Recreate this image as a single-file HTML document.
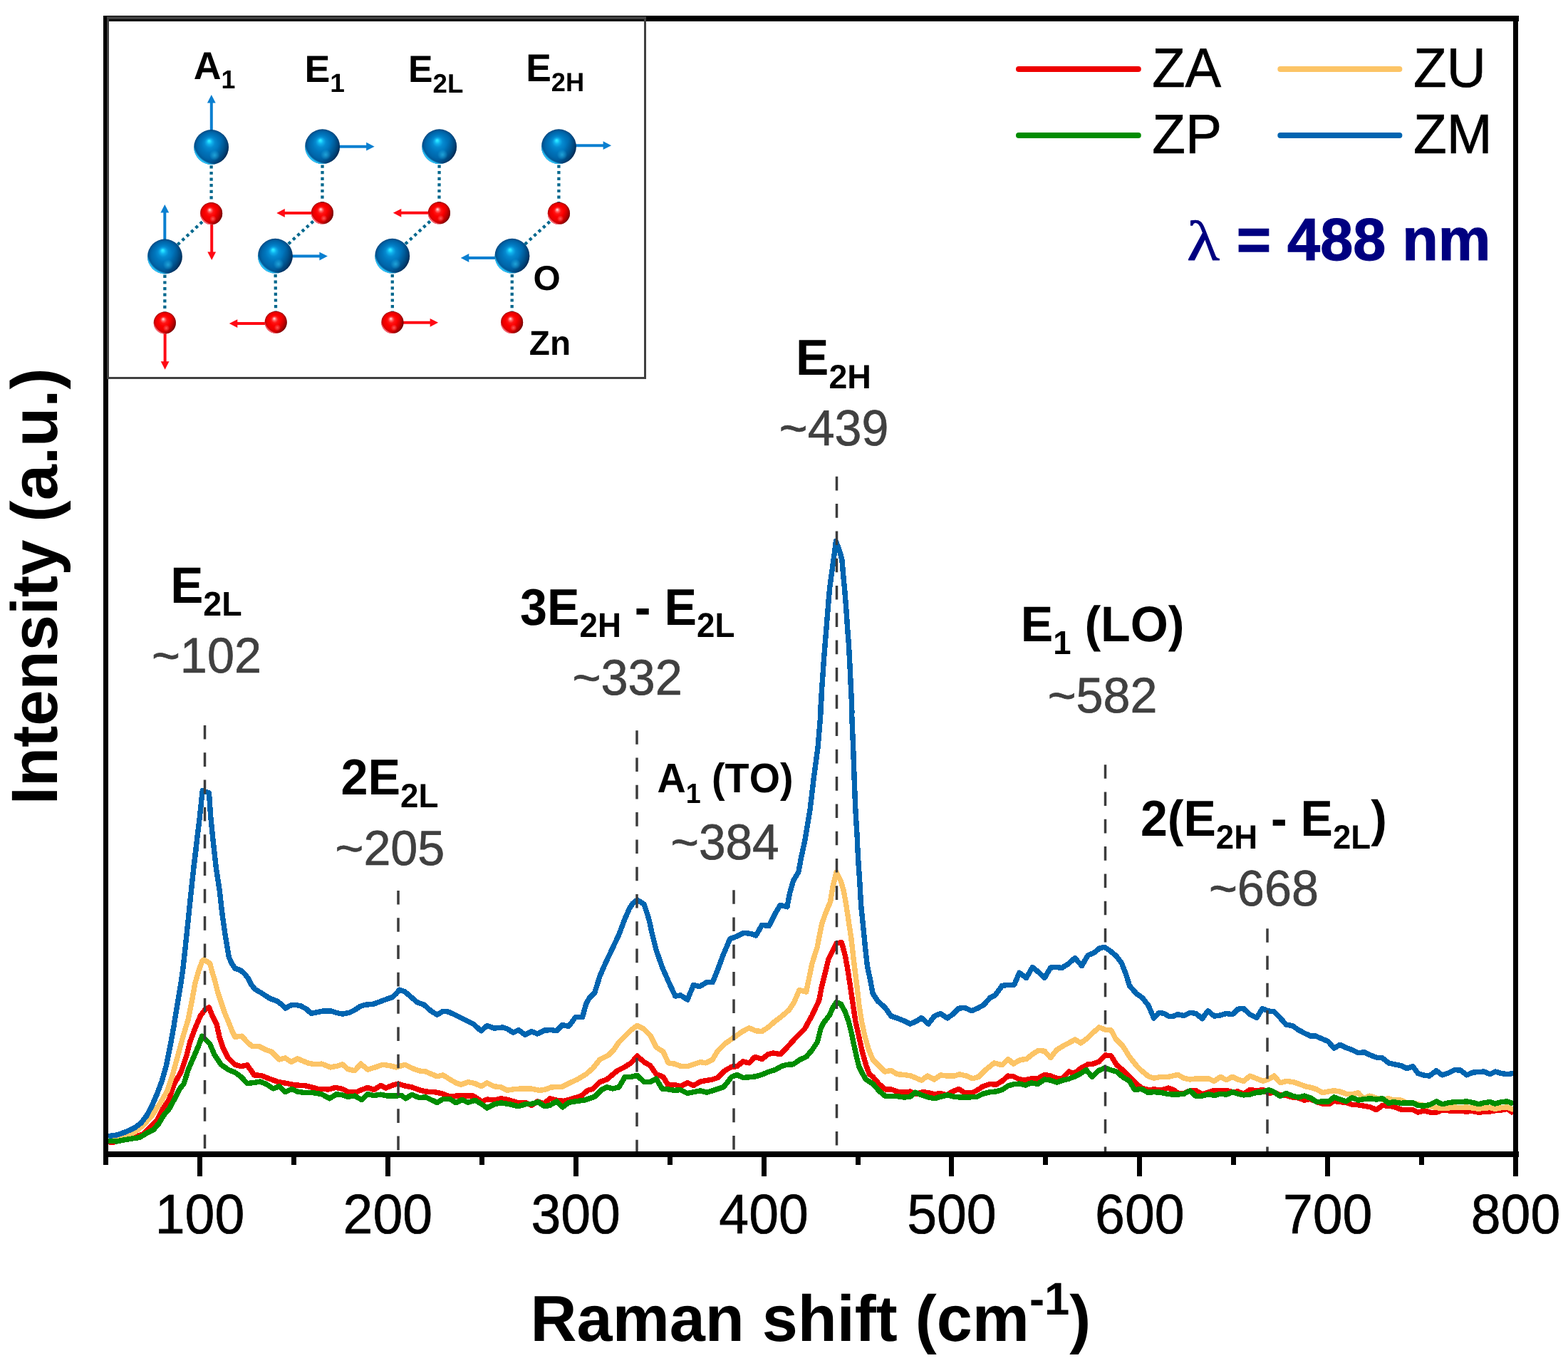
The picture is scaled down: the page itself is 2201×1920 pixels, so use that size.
<!DOCTYPE html>
<html lang="en"><head><meta charset="utf-8"><title>Raman spectra of ZnO samples</title>
<style>html,body{margin:0;padding:0;background:#fff;}body{width:2201px;height:1920px;overflow:hidden;}svg{display:block;font-kerning:none;text-rendering:geometricPrecision;}text{font-kerning:none;}</style></head><body>
<svg width="2201" height="1920" viewBox="0 0 2201 1920">
<defs>
<radialGradient id="gb" cx="0.5" cy="0.5" r="0.5" fx="0.435" fy="0.315"><stop offset="0" stop-color="#36f0ff"/><stop offset="0.07" stop-color="#22dcff"/><stop offset="0.16" stop-color="#10b0ec"/><stop offset="0.30" stop-color="#058ad0"/><stop offset="0.5" stop-color="#0076bd"/><stop offset="0.75" stop-color="#0066aa"/><stop offset="0.93" stop-color="#00528f"/><stop offset="1" stop-color="#004178"/></radialGradient>
<radialGradient id="gr" cx="0.5" cy="0.5" r="0.5" fx="0.425" fy="0.325"><stop offset="0" stop-color="#ffe0e0"/><stop offset="0.07" stop-color="#ffb0b0"/><stop offset="0.16" stop-color="#ff6060"/><stop offset="0.30" stop-color="#ff1414"/><stop offset="0.5" stop-color="#fb0000"/><stop offset="0.75" stop-color="#ec0000"/><stop offset="0.93" stop-color="#c40000"/><stop offset="1" stop-color="#980000"/></radialGradient>
<linearGradient id="sh" x1="0.25" y1="0.35" x2="1" y2="0.7"><stop offset="0" stop-color="#000820" stop-opacity="0"/><stop offset="0.55" stop-color="#000820" stop-opacity="0"/><stop offset="0.85" stop-color="#000820" stop-opacity="0.28"/><stop offset="1" stop-color="#000820" stop-opacity="0.6"/></linearGradient>
<linearGradient id="shr" x1="0.25" y1="0.35" x2="1" y2="0.7"><stop offset="0" stop-color="#300000" stop-opacity="0"/><stop offset="0.55" stop-color="#300000" stop-opacity="0"/><stop offset="0.85" stop-color="#300000" stop-opacity="0.3"/><stop offset="1" stop-color="#300000" stop-opacity="0.62"/></linearGradient>
<radialGradient id="rimb" cx="0.64" cy="0.34" r="0.70"><stop offset="0.9" stop-color="#2cc8ff" stop-opacity="0"/><stop offset="0.97" stop-color="#2cc8ff" stop-opacity="0.95"/><stop offset="1" stop-color="#2cc8ff" stop-opacity="1"/></radialGradient>
<radialGradient id="rimr" cx="0.64" cy="0.34" r="0.70"><stop offset="0.9" stop-color="#ff6a78" stop-opacity="0"/><stop offset="0.97" stop-color="#ff6a78" stop-opacity="0.95"/><stop offset="1" stop-color="#ff6a78" stop-opacity="1"/></radialGradient>
<radialGradient id="spb"><stop offset="0" stop-color="#2ab4e4" stop-opacity="0.75"/><stop offset="1" stop-color="#2ab4e4" stop-opacity="0"/></radialGradient>
<radialGradient id="spr"><stop offset="0" stop-color="#ff6c6c" stop-opacity="0.8"/><stop offset="1" stop-color="#ff6c6c" stop-opacity="0"/></radialGradient>
<g id="ab"><circle r="1" fill="url(#gb)"/><circle r="1" fill="url(#sh)"/><circle r="1" fill="url(#rimb)"/><circle cx="0.19" cy="0.47" r="0.3" fill="url(#spb)"/></g>
<g id="ar"><circle r="1" fill="url(#gr)"/><circle r="1" fill="url(#shr)"/><circle r="1" fill="url(#rimr)"/><circle cx="0.14" cy="0.48" r="0.3" fill="url(#spr)"/></g>
</defs>
<rect x="0" y="0" width="2201" height="1920" fill="#ffffff"/>
<g fill="none" stroke-width="7.4" stroke-linejoin="round" stroke-linecap="butt" shape-rendering="crispEdges">
<path stroke="#ee0000" d="M152.2 1602.6 L157.0 1603.8 L164.3 1601.4 L176.5 1599.0 L188.7 1596.0 L200.9 1591.7 L210.6 1581.9 L220.3 1572.2 L227.6 1557.6 L237.4 1543.0 L244.7 1521.1 L254.4 1504.0 L261.7 1482.1 L266.6 1462.6 L273.9 1443.2 L281.2 1426.1 L287.3 1417.6 L293.4 1414.0 L298.2 1426.1 L304.3 1438.3 L308.0 1455.3 L312.8 1469.9 L320.1 1484.5 L329.9 1494.3 L338.4 1496.7 L346.9 1494.8 L351.8 1501.6 L356.7 1508.9 L366.4 1509.4 L376.1 1513.3 L390.7 1518.6 L402.9 1520.6 L415.1 1523.0 L427.2 1523.5 L437.0 1525.9 L446.7 1528.4 L461.3 1528.9 L471.1 1526.4 L480.8 1528.4 L490.5 1533.2 L500.3 1532.7 L507.6 1529.6 L516.1 1526.4 L524.6 1529.6 L534.4 1523.5 L541.7 1527.1 L551.4 1523.0 L558.7 1521.1 L568.4 1524.0 L578.2 1525.9 L587.9 1529.6 L597.6 1532.0 L609.8 1532.7 L622.0 1535.2 L631.7 1539.3 L640.0 1538.1 L652.2 1538.1 L664.3 1538.1 L676.5 1545.9 L683.8 1543.0 L693.6 1544.2 L703.3 1541.8 L713.0 1543.5 L727.6 1547.8 L737.4 1547.4 L745.9 1551.5 L754.4 1545.9 L764.1 1549.1 L771.5 1541.8 L781.2 1544.2 L790.9 1545.4 L798.2 1543.5 L808.0 1540.5 L815.3 1538.6 L825.0 1530.3 L832.3 1528.4 L842.0 1518.6 L851.8 1515.0 L859.1 1508.9 L866.4 1502.8 L876.1 1497.9 L885.9 1491.9 L894.4 1482.1 L904.1 1490.6 L912.6 1495.5 L921.2 1507.7 L930.9 1511.3 L938.2 1523.5 L946.7 1522.3 L955.2 1524.7 L965.0 1519.8 L973.5 1523.5 L983.2 1518.1 L993.0 1516.2 L1000.3 1515.0 L1007.6 1512.5 L1017.3 1502.8 L1027.0 1497.2 L1034.4 1496.7 L1042.9 1489.9 L1051.4 1491.9 L1059.9 1483.3 L1069.6 1486.5 L1078.2 1479.7 L1085.5 1478.0 L1095.2 1479.7 L1104.9 1469.9 L1114.7 1459.0 L1129.3 1444.4 L1140.0 1424.9 L1149.7 1404.2 L1153.4 1384.7 L1158.3 1365.3 L1163.1 1345.8 L1169.2 1333.6 L1174.1 1323.9 L1181.4 1322.7 L1186.3 1340.9 L1189.9 1360.4 L1193.6 1384.7 L1197.2 1409.1 L1200.9 1433.4 L1205.7 1455.3 L1210.6 1477.2 L1215.5 1494.3 L1220.3 1507.7 L1225.2 1511.3 L1233.7 1521.1 L1242.2 1528.9 L1250.8 1528.9 L1259.3 1532.0 L1269.0 1533.2 L1277.5 1532.0 L1286.1 1535.2 L1295.8 1532.7 L1303.1 1533.7 L1311.6 1535.7 L1320.1 1534.4 L1328.7 1536.9 L1337.2 1532.0 L1345.7 1528.4 L1354.2 1533.7 L1365.2 1533.7 L1373.7 1528.9 L1379.8 1524.7 L1389.5 1521.5 L1398.0 1522.3 L1406.6 1517.4 L1415.1 1510.1 L1422.4 1510.8 L1430.9 1515.0 L1439.4 1515.7 L1447.9 1513.8 L1456.5 1513.8 L1466.2 1508.4 L1474.7 1510.1 L1483.2 1513.3 L1490.5 1513.8 L1500.3 1504.0 L1507.6 1506.9 L1517.3 1499.2 L1527.0 1493.8 L1534.4 1493.1 L1542.9 1489.9 L1551.4 1480.9 L1559.9 1482.1 L1567.2 1494.3 L1577.0 1502.8 L1585.5 1511.3 L1595.2 1521.1 L1602.5 1527.1 L1612.2 1529.6 L1620.8 1528.9 L1629.3 1530.3 L1640.0 1527.1 L1647.3 1529.6 L1654.6 1535.2 L1661.9 1534.4 L1670.4 1530.8 L1678.9 1530.8 L1687.5 1535.7 L1696.0 1533.2 L1704.5 1530.3 L1713.0 1530.8 L1721.5 1530.3 L1730.1 1532.7 L1737.4 1532.0 L1745.9 1535.2 L1754.4 1529.6 L1764.1 1530.8 L1772.7 1529.6 L1781.2 1534.4 L1788.5 1533.2 L1797.0 1536.9 L1805.5 1537.6 L1814.1 1540.0 L1822.6 1541.0 L1831.1 1544.2 L1839.6 1542.5 L1848.1 1546.6 L1856.7 1549.1 L1865.2 1549.8 L1872.5 1545.4 L1881.0 1546.6 L1889.5 1547.4 L1898.0 1550.3 L1906.6 1550.8 L1915.1 1552.2 L1923.6 1553.9 L1932.1 1557.6 L1940.6 1551.5 L1949.2 1552.2 L1956.5 1553.2 L1966.2 1557.1 L1974.7 1557.6 L1983.2 1557.6 L1990.5 1561.2 L1999.1 1558.8 L2007.6 1561.2 L2016.1 1561.2 L2024.6 1558.1 L2033.1 1558.8 L2041.7 1559.5 L2050.2 1559.5 L2058.7 1560.0 L2067.2 1559.5 L2075.7 1561.2 L2083.0 1560.5 L2091.6 1560.0 L2098.9 1558.8 L2107.4 1558.1 L2115.9 1556.4 L2124.4 1562.4"/>
<path stroke="#fcc466" d="M152.2 1601.4 L164.3 1599.0 L176.5 1594.1 L188.7 1589.2 L200.9 1579.5 L213.0 1566.1 L225.2 1547.8 L234.9 1530.8 L242.2 1508.9 L249.5 1482.1 L256.8 1455.3 L264.1 1431.0 L269.0 1406.7 L273.9 1379.9 L278.8 1362.8 L283.6 1349.4 L286.1 1347.0 L294.6 1351.9 L298.2 1365.3 L301.9 1377.4 L305.5 1392.0 L310.4 1406.7 L315.3 1421.3 L321.4 1435.9 L326.2 1448.0 L329.9 1455.3 L339.6 1454.1 L346.9 1462.6 L354.2 1468.7 L364.0 1468.7 L373.7 1473.6 L381.0 1476.0 L385.9 1480.9 L391.9 1487.0 L400.5 1485.0 L409.0 1490.6 L417.5 1485.8 L424.8 1488.9 L432.1 1491.9 L441.9 1493.8 L451.6 1493.1 L463.8 1497.9 L473.5 1496.2 L480.8 1493.8 L488.1 1500.4 L497.8 1502.8 L506.4 1493.1 L516.1 1501.1 L527.0 1497.9 L536.8 1494.3 L546.5 1495.5 L556.3 1497.9 L568.4 1494.3 L578.2 1499.2 L587.9 1502.8 L597.6 1504.0 L613.5 1510.8 L622.0 1508.9 L631.7 1515.0 L640.0 1519.8 L647.3 1522.3 L657.0 1518.6 L666.8 1520.6 L675.3 1524.7 L683.8 1519.8 L693.6 1524.7 L703.3 1525.9 L711.8 1530.3 L722.8 1528.4 L734.9 1527.9 L744.7 1527.9 L756.8 1530.3 L764.1 1529.6 L773.9 1525.9 L788.5 1525.4 L798.2 1520.6 L810.4 1515.0 L822.6 1507.7 L832.3 1499.2 L842.0 1487.0 L854.2 1480.9 L861.5 1473.6 L868.8 1462.6 L876.1 1455.3 L885.9 1445.6 L894.4 1439.5 L904.1 1444.4 L912.6 1452.9 L921.2 1469.9 L930.9 1476.0 L938.2 1491.9 L946.7 1493.1 L956.5 1496.7 L966.2 1496.2 L975.9 1493.1 L983.2 1490.6 L990.5 1491.9 L1000.3 1487.0 L1007.6 1474.8 L1017.3 1465.1 L1029.5 1456.6 L1041.7 1448.0 L1051.4 1442.7 L1061.1 1446.8 L1069.6 1447.5 L1078.2 1441.9 L1087.9 1433.4 L1097.6 1426.1 L1107.4 1417.6 L1114.7 1406.7 L1122.0 1389.6 L1131.7 1392.0 L1140.0 1351.9 L1147.3 1328.8 L1153.4 1297.1 L1159.5 1280.1 L1165.6 1265.5 L1169.2 1243.6 L1174.1 1224.1 L1180.2 1236.3 L1183.8 1248.4 L1187.5 1267.9 L1191.1 1292.2 L1194.8 1316.6 L1198.4 1348.2 L1202.1 1377.4 L1205.7 1409.1 L1209.4 1433.4 L1214.2 1455.3 L1219.1 1472.4 L1225.2 1487.0 L1233.7 1495.5 L1242.2 1504.0 L1250.8 1502.3 L1259.3 1507.7 L1269.0 1508.4 L1278.8 1510.1 L1293.4 1516.2 L1301.9 1510.1 L1311.6 1515.0 L1320.1 1508.9 L1329.9 1510.1 L1339.6 1510.1 L1346.9 1507.7 L1356.7 1510.1 L1365.2 1513.8 L1373.7 1511.3 L1383.4 1501.6 L1395.6 1491.9 L1406.6 1494.8 L1415.1 1486.5 L1422.4 1493.1 L1432.1 1487.5 L1440.6 1486.5 L1449.2 1479.7 L1457.7 1474.3 L1466.2 1475.3 L1474.7 1484.5 L1483.2 1473.6 L1493.0 1467.5 L1500.3 1463.9 L1508.8 1459.0 L1517.3 1463.9 L1527.0 1456.6 L1534.4 1449.3 L1542.9 1441.9 L1551.4 1445.1 L1559.9 1446.1 L1566.0 1457.8 L1575.7 1467.5 L1585.5 1483.3 L1595.2 1495.5 L1602.5 1502.8 L1612.2 1510.8 L1619.6 1513.3 L1629.3 1511.3 L1640.0 1511.3 L1653.4 1508.4 L1661.9 1513.3 L1670.4 1515.0 L1678.9 1513.8 L1696.0 1513.8 L1704.5 1517.4 L1713.0 1511.3 L1721.5 1515.7 L1730.1 1511.3 L1737.4 1515.0 L1745.9 1517.4 L1754.4 1510.1 L1764.1 1513.8 L1772.7 1517.4 L1780.0 1515.0 L1788.5 1510.1 L1797.0 1519.8 L1805.5 1517.4 L1815.3 1518.6 L1823.8 1521.5 L1832.3 1524.7 L1840.8 1526.4 L1848.1 1528.9 L1856.7 1533.7 L1864.0 1532.0 L1872.5 1530.8 L1881.0 1532.0 L1889.5 1535.2 L1898.0 1535.7 L1906.6 1533.7 L1913.9 1541.8 L1922.4 1538.1 L1932.1 1541.0 L1940.6 1543.0 L1949.2 1541.8 L1956.5 1544.2 L1965.0 1543.5 L1973.5 1547.4 L1983.2 1547.8 L1990.5 1549.8 L1999.1 1551.5 L2007.6 1552.7 L2016.1 1554.7 L2024.6 1555.1 L2033.1 1555.1 L2041.7 1553.9 L2050.2 1554.7 L2058.7 1553.9 L2067.2 1555.1 L2075.7 1556.4 L2083.0 1555.1 L2091.6 1554.7 L2098.9 1556.4 L2107.4 1554.7 L2115.9 1553.9 L2124.4 1557.6"/>
<path stroke="#008c00" d="M152.2 1601.4 L164.3 1601.9 L176.5 1599.4 L196.0 1596.5 L205.7 1590.4 L215.5 1585.6 L222.8 1577.0 L230.1 1564.9 L237.4 1556.4 L244.7 1543.0 L252.0 1528.4 L258.1 1521.1 L264.1 1501.6 L271.5 1484.5 L278.8 1467.5 L283.6 1454.1 L288.5 1459.0 L294.6 1465.1 L300.7 1479.7 L310.4 1494.3 L320.1 1501.1 L329.9 1505.2 L338.4 1511.3 L346.9 1520.6 L354.2 1519.8 L365.2 1518.1 L373.7 1521.5 L383.4 1527.9 L391.9 1524.7 L400.5 1532.7 L409.0 1528.4 L417.5 1532.0 L427.2 1533.7 L437.0 1533.2 L451.6 1535.7 L462.5 1541.8 L472.3 1535.7 L480.8 1536.9 L488.1 1539.3 L497.8 1538.1 L507.6 1543.5 L516.1 1535.7 L524.6 1537.6 L534.4 1536.2 L544.1 1538.1 L553.8 1538.1 L563.6 1537.6 L569.6 1541.8 L578.2 1536.2 L587.9 1540.5 L597.6 1540.0 L613.5 1547.4 L622.0 1542.5 L631.7 1542.5 L640.0 1547.8 L648.5 1543.5 L657.0 1547.4 L666.8 1544.2 L675.3 1549.1 L683.8 1555.1 L693.6 1549.8 L703.3 1547.8 L715.5 1549.8 L727.6 1552.7 L737.4 1549.8 L747.1 1549.1 L755.6 1546.6 L764.1 1552.7 L771.5 1551.5 L781.2 1545.9 L789.7 1553.9 L798.2 1547.4 L810.4 1545.4 L820.1 1544.2 L834.7 1539.3 L844.5 1529.6 L851.8 1525.9 L860.3 1527.9 L868.8 1525.9 L877.3 1511.3 L885.9 1511.3 L894.4 1509.4 L904.1 1518.6 L912.6 1518.6 L921.2 1514.2 L929.7 1528.4 L938.2 1528.9 L946.7 1530.3 L955.2 1529.6 L965.0 1534.4 L973.5 1532.7 L983.2 1530.8 L991.8 1533.2 L1000.3 1530.8 L1016.1 1525.4 L1027.0 1511.3 L1034.4 1508.4 L1042.9 1512.5 L1051.4 1511.8 L1061.1 1510.8 L1070.9 1507.7 L1078.2 1504.5 L1087.9 1501.6 L1097.6 1496.2 L1104.9 1494.3 L1113.5 1493.8 L1123.2 1487.0 L1131.7 1483.3 L1140.0 1473.6 L1147.3 1462.6 L1152.2 1443.2 L1155.8 1435.9 L1164.3 1424.9 L1169.2 1414.0 L1174.1 1406.7 L1180.2 1409.1 L1186.3 1420.0 L1191.1 1433.4 L1194.8 1448.0 L1198.4 1465.1 L1202.1 1482.1 L1205.7 1496.7 L1210.6 1506.5 L1215.5 1515.0 L1225.2 1521.1 L1233.7 1530.8 L1242.2 1538.1 L1250.8 1538.6 L1259.3 1538.6 L1269.0 1540.0 L1277.5 1539.3 L1284.8 1533.2 L1293.4 1536.9 L1303.1 1540.0 L1311.6 1541.8 L1320.1 1539.3 L1329.9 1536.9 L1339.6 1539.3 L1346.9 1540.0 L1359.1 1540.0 L1371.3 1539.3 L1379.8 1535.2 L1389.5 1532.7 L1398.0 1532.0 L1406.6 1529.6 L1415.1 1524.0 L1423.6 1521.5 L1430.9 1521.1 L1439.4 1523.0 L1447.9 1519.8 L1456.5 1521.5 L1466.2 1515.0 L1474.7 1516.2 L1483.2 1519.1 L1491.8 1516.2 L1500.3 1514.2 L1508.8 1510.8 L1517.3 1506.5 L1524.6 1501.6 L1533.1 1511.3 L1541.7 1502.8 L1551.4 1498.7 L1558.7 1501.6 L1567.2 1504.0 L1575.7 1511.3 L1585.5 1517.4 L1592.8 1529.6 L1602.5 1528.4 L1611.0 1533.2 L1619.6 1532.7 L1629.3 1533.2 L1640.0 1535.7 L1652.2 1536.2 L1661.9 1535.2 L1670.4 1530.8 L1678.9 1538.6 L1687.5 1538.1 L1696.0 1535.7 L1704.5 1537.6 L1713.0 1535.2 L1721.5 1536.2 L1730.1 1532.7 L1737.4 1535.2 L1745.9 1536.9 L1754.4 1536.2 L1764.1 1533.2 L1772.7 1532.7 L1781.2 1529.6 L1788.5 1532.7 L1797.0 1538.6 L1805.5 1534.4 L1814.1 1538.1 L1822.6 1540.0 L1831.1 1538.1 L1839.6 1541.0 L1848.1 1546.6 L1856.7 1545.9 L1865.2 1545.9 L1872.5 1540.0 L1881.0 1543.0 L1889.5 1545.9 L1898.0 1540.5 L1906.6 1544.2 L1915.1 1542.5 L1923.6 1541.8 L1932.1 1543.0 L1940.6 1541.8 L1949.2 1548.3 L1956.5 1546.6 L1966.2 1548.3 L1974.7 1547.8 L1983.2 1547.8 L1990.5 1551.5 L1999.1 1552.2 L2007.6 1550.3 L2016.1 1545.9 L2024.6 1549.8 L2033.1 1547.8 L2041.7 1546.6 L2050.2 1546.6 L2058.7 1545.9 L2067.2 1547.4 L2075.7 1549.8 L2083.0 1547.8 L2091.6 1546.6 L2098.9 1549.1 L2107.4 1546.6 L2115.9 1545.9 L2124.4 1549.1"/>
<path stroke="#0064b0" d="M152.2 1594.6 L164.3 1592.9 L176.5 1588.7 L188.7 1583.1 L198.4 1575.8 L205.7 1566.1 L213.0 1552.7 L220.3 1535.7 L227.6 1516.2 L233.7 1494.3 L238.6 1469.9 L243.5 1443.2 L248.3 1414.0 L253.2 1384.7 L256.8 1360.4 L260.5 1326.3 L264.1 1292.2 L267.8 1255.7 L271.5 1221.6 L275.1 1192.4 L271.6 1219.3 L276.0 1182.7 L280.4 1146.2 L284.2 1109.9 L293.5 1112.9 L295.7 1146.2 L299.4 1182.7 L303.5 1219.3 L308.0 1248.4 L311.6 1280.1 L315.3 1306.8 L318.9 1328.8 L321.4 1343.4 L325.0 1351.9 L329.9 1359.2 L337.2 1361.6 L342.0 1365.3 L348.1 1372.6 L353.0 1382.3 L357.9 1388.4 L366.4 1393.3 L373.7 1398.1 L379.8 1401.8 L388.3 1404.7 L394.4 1409.1 L400.5 1415.2 L407.8 1411.0 L415.1 1410.3 L422.4 1412.0 L429.7 1415.9 L437.0 1422.5 L444.3 1420.8 L454.0 1418.8 L463.8 1418.8 L473.5 1421.7 L480.8 1423.2 L490.5 1421.3 L497.8 1417.6 L505.1 1412.7 L512.4 1410.3 L524.6 1409.1 L534.4 1405.4 L544.1 1401.8 L551.4 1399.3 L556.3 1394.5 L560.6 1389.1 L568.4 1392.0 L575.7 1398.1 L585.5 1406.7 L595.2 1410.3 L604.9 1418.8 L613.5 1424.2 L622.0 1419.3 L629.3 1420.0 L640.0 1424.9 L649.7 1429.8 L664.3 1437.1 L675.3 1446.8 L683.8 1439.5 L693.6 1443.2 L705.7 1441.9 L713.0 1444.4 L720.3 1449.3 L727.6 1445.6 L737.4 1452.4 L745.9 1447.5 L754.4 1451.0 L764.1 1446.1 L773.9 1445.6 L781.2 1446.8 L789.7 1438.3 L798.2 1440.7 L808.0 1427.3 L817.7 1427.3 L822.6 1409.1 L827.4 1400.6 L834.7 1393.3 L842.0 1370.1 L849.3 1353.1 L859.1 1332.4 L868.8 1311.7 L876.1 1292.2 L883.4 1275.2 L888.3 1267.9 L894.4 1263.0 L904.1 1269.1 L907.8 1280.1 L911.4 1292.2 L915.1 1309.3 L921.2 1333.6 L929.7 1358.0 L939.4 1379.9 L947.9 1398.1 L955.2 1396.9 L965.0 1403.0 L973.5 1382.3 L982.0 1384.7 L991.8 1378.7 L1000.3 1378.7 L1007.6 1360.4 L1014.9 1340.9 L1024.6 1317.8 L1034.4 1314.1 L1044.1 1309.3 L1053.8 1310.5 L1061.1 1312.9 L1069.6 1298.3 L1079.4 1299.5 L1087.9 1282.5 L1095.2 1270.3 L1104.9 1272.8 L1108.6 1253.3 L1113.5 1236.3 L1120.8 1224.1 L1124.4 1204.6 L1129.9 1179.3 L1137.2 1135.4 L1142.3 1091.6 L1148.2 1047.7 L1151.8 1003.9 L1154.0 960.0 L1151.6 999.6 L1152.7 982.0 L1153.9 962.5 L1155.3 943.0 L1156.6 923.4 L1158.2 903.9 L1159.8 884.4 L1161.3 864.8 L1162.9 845.3 L1164.6 825.8 L1167.2 806.2 L1169.9 786.7 L1171.9 772.1 L1173.4 759.8 L1176.8 768.2 L1179.7 777.0 L1182.0 786.7 L1183.6 806.2 L1185.5 825.8 L1187.1 845.3 L1188.5 864.8 L1189.8 884.4 L1191.4 903.9 L1192.4 923.4 L1193.4 943.0 L1194.3 962.5 L1195.3 982.0 L1195.9 999.6 L1195.7 1003.9 L1197.6 1047.7 L1199.1 1091.6 L1200.8 1135.4 L1203.5 1179.3 L1203.8 1190.0 L1205.2 1214.3 L1206.9 1238.7 L1208.6 1270.3 L1211.1 1294.7 L1214.2 1326.3 L1217.4 1355.5 L1221.5 1375.0 L1225.2 1394.5 L1232.5 1405.4 L1242.2 1414.0 L1250.8 1426.1 L1261.7 1429.8 L1271.5 1433.9 L1277.5 1437.1 L1286.1 1433.4 L1293.4 1428.6 L1303.1 1437.1 L1311.6 1426.1 L1320.1 1422.5 L1329.9 1429.0 L1337.2 1423.7 L1345.7 1415.2 L1354.2 1414.4 L1364.0 1418.8 L1373.7 1414.4 L1381.0 1410.3 L1389.5 1400.6 L1396.8 1396.9 L1406.6 1383.5 L1415.1 1382.3 L1423.6 1382.3 L1430.9 1365.3 L1440.6 1372.6 L1449.2 1357.5 L1458.9 1365.3 L1466.2 1372.6 L1474.7 1358.0 L1483.2 1357.5 L1490.5 1358.5 L1499.1 1353.1 L1508.8 1344.6 L1518.5 1355.5 L1527.0 1340.9 L1535.6 1337.3 L1542.9 1331.2 L1550.2 1329.2 L1558.7 1334.8 L1567.2 1342.1 L1574.5 1351.9 L1580.6 1367.7 L1585.5 1383.5 L1595.2 1394.5 L1603.7 1400.6 L1612.2 1411.5 L1619.6 1429.0 L1626.9 1421.3 L1634.2 1422.5 L1640.0 1426.1 L1646.1 1426.6 L1653.4 1423.7 L1661.9 1425.6 L1670.4 1421.3 L1678.9 1422.5 L1687.5 1429.8 L1695.5 1418.8 L1704.5 1426.1 L1713.0 1424.9 L1721.5 1422.5 L1730.1 1423.7 L1737.4 1416.4 L1745.2 1415.2 L1754.4 1423.7 L1764.1 1428.6 L1771.9 1415.7 L1780.0 1418.8 L1788.5 1420.0 L1797.0 1428.6 L1805.5 1438.3 L1814.1 1439.5 L1822.6 1445.6 L1831.1 1450.0 L1839.6 1454.1 L1846.9 1454.1 L1855.4 1457.8 L1864.0 1461.4 L1872.5 1471.2 L1881.0 1466.3 L1889.5 1470.4 L1898.0 1473.6 L1906.6 1477.7 L1915.1 1476.8 L1923.6 1480.9 L1932.1 1484.1 L1940.6 1485.0 L1949.2 1491.9 L1957.7 1493.8 L1966.2 1495.5 L1974.7 1499.6 L1983.2 1496.7 L1990.5 1506.5 L1997.8 1508.9 L2006.4 1510.1 L2016.1 1502.8 L2024.6 1508.9 L2033.1 1506.0 L2041.7 1501.6 L2050.2 1502.1 L2058.7 1508.9 L2067.2 1505.2 L2075.7 1504.5 L2083.0 1504.0 L2091.6 1507.7 L2098.9 1504.0 L2107.4 1506.5 L2115.9 1507.7 L2124.4 1506.5"/>
</g>
<g stroke="#3c3c3c" stroke-width="3.5" stroke-dasharray="19.6 18.7" fill="none">
<path d="M287.5 1018.0 V1616.5"/>
<path d="M559.0 1249.9 V1616.5"/>
<path d="M894.0 1025.2 V1616.5"/>
<path d="M1030.0 1249.2 V1616.5"/>
<path d="M1174.5 668.8 V1616.5"/>
<path d="M1551.5 1073.2 V1616.5"/>
<path d="M1779.0 1303.2 V1616.5"/>
</g>
<g id="inset">
<path d="M296.6 206.5 L296.6 299.6" stroke="#04688e" stroke-width="4.3" stroke-dasharray="4.2 4.4" fill="none"/>
<path d="M296.6 299.6 L231.4 360.0" stroke="#04688e" stroke-width="4.3" stroke-dasharray="4.2 4.4" fill="none"/>
<path d="M231.4 360.0 L231.3 453.0" stroke="#04688e" stroke-width="4.3" stroke-dasharray="4.2 4.4" fill="none"/>
<path d="M452.6 205.7 L452.4 298.9" stroke="#04688e" stroke-width="4.3" stroke-dasharray="4.2 4.4" fill="none"/>
<path d="M452.4 298.9 L386.4 359.2" stroke="#04688e" stroke-width="4.3" stroke-dasharray="4.2 4.4" fill="none"/>
<path d="M386.4 359.2 L387.2 452.3" stroke="#04688e" stroke-width="4.3" stroke-dasharray="4.2 4.4" fill="none"/>
<path d="M616.7 205.7 L616.4 298.9" stroke="#04688e" stroke-width="4.3" stroke-dasharray="4.2 4.4" fill="none"/>
<path d="M616.4 298.9 L550.7 359.2" stroke="#04688e" stroke-width="4.3" stroke-dasharray="4.2 4.4" fill="none"/>
<path d="M550.7 359.2 L550.9 452.5" stroke="#04688e" stroke-width="4.3" stroke-dasharray="4.2 4.4" fill="none"/>
<path d="M784.4 205.7 L784.4 299.4" stroke="#04688e" stroke-width="4.3" stroke-dasharray="4.2 4.4" fill="none"/>
<path d="M784.4 299.4 L718.9 359.2" stroke="#04688e" stroke-width="4.3" stroke-dasharray="4.2 4.4" fill="none"/>
<path d="M718.9 359.2 L718.6 452.5" stroke="#04688e" stroke-width="4.3" stroke-dasharray="4.2 4.4" fill="none"/>
<path d="M296.8 206.5 L296.8 142.5" stroke="#0a7fd0" stroke-width="4.0" fill="none"/><path d="M296.8 133.0 L302.7 144.5 L290.9 144.5 Z" fill="#0a7fd0"/>
<path d="M297.2 299.6 L297.2 355.4" stroke="#ff0a14" stroke-width="4.0" fill="none"/><path d="M297.2 364.9 L291.3 353.4 L303.1 353.4 Z" fill="#ff0a14"/>
<path d="M231.3 360.0 L231.3 296.5" stroke="#0a7fd0" stroke-width="4.0" fill="none"/><path d="M231.3 287.0 L237.2 298.5 L225.4 298.5 Z" fill="#0a7fd0"/>
<path d="M231.6 453.0 L231.6 509.2" stroke="#ff0a14" stroke-width="4.0" fill="none"/><path d="M231.6 518.7 L225.7 507.2 L237.5 507.2 Z" fill="#ff0a14"/>
<path d="M452.6 205.7 L516.1 205.7" stroke="#0a7fd0" stroke-width="4.0" fill="none"/><path d="M525.6 205.7 L514.1 211.6 L514.1 199.8 Z" fill="#0a7fd0"/>
<path d="M452.4 299.0 L397.8 299.0" stroke="#ff0a14" stroke-width="4.0" fill="none"/><path d="M388.3 299.0 L399.8 293.1 L399.8 304.9 Z" fill="#ff0a14"/>
<path d="M386.4 359.6 L450.4 359.6" stroke="#0a7fd0" stroke-width="4.0" fill="none"/><path d="M459.9 359.6 L448.4 365.5 L448.4 353.7 Z" fill="#0a7fd0"/>
<path d="M387.2 454.1 L331.3 454.1" stroke="#ff0a14" stroke-width="4.0" fill="none"/><path d="M321.8 454.1 L333.3 448.2 L333.3 460.0 Z" fill="#ff0a14"/>
<path d="M616.4 298.8 L561.3 298.8" stroke="#ff0a14" stroke-width="4.0" fill="none"/><path d="M551.8 298.8 L563.3 292.9 L563.3 304.7 Z" fill="#ff0a14"/>
<path d="M550.9 452.8 L605.6 452.8" stroke="#ff0a14" stroke-width="4.0" fill="none"/><path d="M615.1 452.8 L603.6 458.7 L603.6 446.9 Z" fill="#ff0a14"/>
<path d="M784.4 204.2 L848.6 204.2" stroke="#0a7fd0" stroke-width="4.0" fill="none"/><path d="M858.1 204.2 L846.6 210.1 L846.6 198.3 Z" fill="#0a7fd0"/>
<path d="M718.9 362.0 L656.3 362.0" stroke="#0a7fd0" stroke-width="4.0" fill="none"/><path d="M646.8 362.0 L658.3 356.1 L658.3 367.9 Z" fill="#0a7fd0"/>
<use href="#ab" transform="translate(296.6 206.5) scale(24.40)"/>
<use href="#ar" transform="translate(296.6 299.6) scale(15.60)"/>
<use href="#ab" transform="translate(231.4 360.0) scale(24.40)"/>
<use href="#ar" transform="translate(231.3 453.0) scale(15.60)"/>
<use href="#ab" transform="translate(452.6 205.7) scale(24.40)"/>
<use href="#ar" transform="translate(452.4 298.9) scale(15.60)"/>
<use href="#ab" transform="translate(386.4 359.2) scale(24.40)"/>
<use href="#ar" transform="translate(387.2 452.3) scale(15.60)"/>
<use href="#ab" transform="translate(616.7 205.7) scale(24.40)"/>
<use href="#ar" transform="translate(616.4 298.9) scale(15.60)"/>
<use href="#ab" transform="translate(550.7 359.2) scale(24.40)"/>
<use href="#ar" transform="translate(550.9 452.5) scale(15.60)"/>
<use href="#ab" transform="translate(784.4 205.7) scale(24.40)"/>
<use href="#ar" transform="translate(784.4 299.4) scale(15.60)"/>
<use href="#ab" transform="translate(718.9 359.2) scale(24.40)"/>
<use href="#ar" transform="translate(718.6 452.5) scale(15.60)"/>
<text transform="translate(271.66 111.10) scale(0.9831 1)" fill="#000" xml:space="preserve" ><tspan font-size="54.65" font-weight="bold" font-family='"Liberation Sans", Arial, Helvetica, sans-serif'>A</tspan><tspan font-size="36.34" font-weight="bold" font-family='"Liberation Sans", Arial, Helvetica, sans-serif' dy="13.30">1</tspan></text>
<text transform="translate(427.41 114.90) scale(1.0149 1)" fill="#000" xml:space="preserve" ><tspan font-size="52.91" font-weight="bold" font-family='"Liberation Sans", Arial, Helvetica, sans-serif'>E</tspan><tspan font-size="36.63" font-weight="bold" font-family='"Liberation Sans", Arial, Helvetica, sans-serif' dy="14.30">1</tspan></text>
<text transform="translate(573.04 114.90) scale(0.9777 1)" fill="#000" xml:space="preserve" ><tspan font-size="52.91" font-weight="bold" font-family='"Liberation Sans", Arial, Helvetica, sans-serif'>E</tspan><tspan font-size="37.50" font-weight="bold" font-family='"Liberation Sans", Arial, Helvetica, sans-serif' dy="14.80">2L</tspan></text>
<text transform="translate(738.13 114.00) scale(0.9828 1)" fill="#000" xml:space="preserve" ><tspan font-size="54.36" font-weight="bold" font-family='"Liberation Sans", Arial, Helvetica, sans-serif'>E</tspan><tspan font-size="36.92" font-weight="bold" font-family='"Liberation Sans", Arial, Helvetica, sans-serif' dy="13.80">2H</tspan></text>
<text transform="translate(748.58 407.40) scale(1.0139 1)" fill="#000" xml:space="preserve" ><tspan font-size="48.55" font-weight="bold" font-family='"Liberation Sans", Arial, Helvetica, sans-serif'>O</tspan></text>
<text transform="translate(742.78 497.80) scale(0.9885 1)" fill="#000" xml:space="preserve" ><tspan font-size="48.26" font-weight="bold" font-family='"Liberation Sans", Arial, Helvetica, sans-serif'>Zn</tspan></text>
</g>
<g fill="#000" shape-rendering="crispEdges">
<rect x="145" y="22" width="1987" height="8"/>
<rect x="145" y="1616" width="1987" height="8"/>
<rect x="145" y="22" width="7" height="1613"/>
<rect x="2124" y="22" width="7" height="1629"/>
<rect x="277" y="1620" width="7" height="31"/>
<rect x="541" y="1620" width="7" height="31"/>
<rect x="805" y="1620" width="7" height="31"/>
<rect x="1069" y="1620" width="7" height="31"/>
<rect x="1332" y="1620" width="7" height="31"/>
<rect x="1596" y="1620" width="7" height="31"/>
<rect x="1860" y="1620" width="7" height="31"/>
<rect x="409" y="1620" width="7" height="15"/>
<rect x="673" y="1620" width="7" height="15"/>
<rect x="937" y="1620" width="7" height="15"/>
<rect x="1201" y="1620" width="7" height="15"/>
<rect x="1464" y="1620" width="7" height="15"/>
<rect x="1728" y="1620" width="7" height="15"/>
<rect x="1992" y="1620" width="7" height="15"/>
</g>
<g fill="#404040" shape-rendering="crispEdges"><rect x="150" y="23" width="757" height="4"/><rect x="150" y="23" width="3" height="509"/><rect x="904" y="23" width="3" height="509"/><rect x="150" y="529" width="757" height="3"/></g>
<text transform="translate(217.71 1730.50) scale(0.9604 1)" font-size="78.34" font-family='"Liberation Sans", Arial, Helvetica, sans-serif' fill="#000" stroke="#000" stroke-width="0.7">100</text>
<text transform="translate(481.58 1730.50) scale(0.9604 1)" font-size="78.34" font-family='"Liberation Sans", Arial, Helvetica, sans-serif' fill="#000" stroke="#000" stroke-width="0.7">200</text>
<text transform="translate(745.45 1730.50) scale(0.9604 1)" font-size="78.34" font-family='"Liberation Sans", Arial, Helvetica, sans-serif' fill="#000" stroke="#000" stroke-width="0.7">300</text>
<text transform="translate(1009.31 1730.50) scale(0.9604 1)" font-size="78.34" font-family='"Liberation Sans", Arial, Helvetica, sans-serif' fill="#000" stroke="#000" stroke-width="0.7">400</text>
<text transform="translate(1273.18 1730.50) scale(0.9604 1)" font-size="78.34" font-family='"Liberation Sans", Arial, Helvetica, sans-serif' fill="#000" stroke="#000" stroke-width="0.7">500</text>
<text transform="translate(1537.05 1730.50) scale(0.9604 1)" font-size="78.34" font-family='"Liberation Sans", Arial, Helvetica, sans-serif' fill="#000" stroke="#000" stroke-width="0.7">600</text>
<text transform="translate(1800.91 1730.50) scale(0.9604 1)" font-size="78.34" font-family='"Liberation Sans", Arial, Helvetica, sans-serif' fill="#000" stroke="#000" stroke-width="0.7">700</text>
<text transform="translate(2064.78 1730.50) scale(0.9604 1)" font-size="78.34" font-family='"Liberation Sans", Arial, Helvetica, sans-serif' fill="#000" stroke="#000" stroke-width="0.7">800</text>
<text transform="translate(744.58 1881.70) scale(0.9850 1)" fill="#000" xml:space="preserve" ><tspan font-size="91.40" font-weight="bold" font-family='"Liberation Sans", Arial, Helvetica, sans-serif'>Raman shift (cm</tspan><tspan font-size="64.39" font-weight="bold" font-family='"Liberation Sans", Arial, Helvetica, sans-serif' dy="-36.50">-1</tspan><tspan font-size="91.40" font-weight="bold" font-family='"Liberation Sans", Arial, Helvetica, sans-serif' dy="36.50">)</tspan></text>
<text transform="translate(79.8 1129.15) rotate(-90) scale(0.9846 1)" font-size="91.80" font-weight="bold" font-family='"Liberation Sans", Arial, Helvetica, sans-serif' fill="#000">Intensity (a.u.)</text>
<g fill="none" stroke-width="8" stroke-linecap="round">
<path stroke="#ee0000" d="M1430.0 96.9 H1597.8"/>
<path stroke="#008c00" d="M1430.0 190.0 H1597.8"/>
<path stroke="#fcc466" d="M1797.3 96.9 H1964.4"/>
<path stroke="#0064b0" d="M1797.3 190.0 H1964.4"/>
</g>
<text transform="translate(1617.19 122.00) scale(0.9739 1)" fill="#000" xml:space="preserve" stroke="#000" stroke-width="0.7"><tspan font-size="77.91" font-weight="normal" font-family='"Liberation Sans", Arial, Helvetica, sans-serif'>ZA</tspan></text>
<text transform="translate(1617.17 214.80) scale(0.9820 1)" fill="#000" xml:space="preserve" stroke="#000" stroke-width="0.7"><tspan font-size="77.91" font-weight="normal" font-family='"Liberation Sans", Arial, Helvetica, sans-serif'>ZP</tspan></text>
<text transform="translate(1984.08 121.90) scale(0.9775 1)" fill="#000" xml:space="preserve" stroke="#000" stroke-width="0.7"><tspan font-size="78.05" font-weight="normal" font-family='"Liberation Sans", Arial, Helvetica, sans-serif'>ZU</tspan></text>
<text transform="translate(1984.07 215.00) scale(0.9787 1)" fill="#000" xml:space="preserve" stroke="#000" stroke-width="0.7"><tspan font-size="78.20" font-weight="normal" font-family='"Liberation Sans", Arial, Helvetica, sans-serif'>ZM</tspan></text>
<text transform="translate(1665.90 365.00) scale(1.1937 1)" fill="#000080" xml:space="preserve" stroke="#000080" stroke-width="0.8"><tspan font-size="79.50" font-weight="normal" font-family='"Liberation Serif", "Times New Roman", serif'>λ</tspan></text>
<text transform="translate(1735.76 364.70) scale(0.9889 1)" fill="#000080" xml:space="preserve" stroke="#000080" stroke-width="1.2"><tspan font-size="83.72" font-weight="bold" font-family='"Liberation Sans", Arial, Helvetica, sans-serif'>= 488 nm</tspan></text>
<text transform="translate(239.17 846.20) scale(0.9674 1)" fill="#000" xml:space="preserve" ><tspan font-size="71.51" font-weight="bold" font-family='"Liberation Sans", Arial, Helvetica, sans-serif'>E</tspan><tspan font-size="48.11" font-weight="bold" font-family='"Liberation Sans", Arial, Helvetica, sans-serif' dy="18.00">2L</tspan></text>
<text transform="translate(478.53 1115.00) scale(0.9644 1)" fill="#000" xml:space="preserve" ><tspan font-size="70.79" font-weight="bold" font-family='"Liberation Sans", Arial, Helvetica, sans-serif'>2E</tspan><tspan font-size="47.43" font-weight="bold" font-family='"Liberation Sans", Arial, Helvetica, sans-serif' dy="17.70">2L</tspan></text>
<text transform="translate(730.03 877.40) scale(0.9445 1)" fill="#000" xml:space="preserve" ><tspan font-size="72.24" font-weight="bold" font-family='"Liberation Sans", Arial, Helvetica, sans-serif'>3E</tspan><tspan font-size="48.40" font-weight="bold" font-family='"Liberation Sans", Arial, Helvetica, sans-serif' dy="17.00">2H</tspan><tspan font-size="72.24" font-weight="bold" font-family='"Liberation Sans", Arial, Helvetica, sans-serif' dy="-17.00"> - E</tspan><tspan font-size="48.40" font-weight="bold" font-family='"Liberation Sans", Arial, Helvetica, sans-serif' dy="17.00">2L</tspan></text>
<text transform="translate(922.41 1112.00) scale(0.9602 1)" fill="#000" xml:space="preserve" ><tspan font-size="58.00" font-weight="bold" font-family='"Liberation Sans", Arial, Helvetica, sans-serif'>A</tspan><tspan font-size="39.24" font-weight="bold" font-family='"Liberation Sans", Arial, Helvetica, sans-serif' dy="15.10">1</tspan><tspan font-size="58.00" font-weight="bold" font-family='"Liberation Sans", Arial, Helvetica, sans-serif' dy="-15.10"> (TO)</tspan></text>
<text transform="translate(1117.05 526.20) scale(0.9819 1)" fill="#000" xml:space="preserve" ><tspan font-size="70.79" font-weight="bold" font-family='"Liberation Sans", Arial, Helvetica, sans-serif'>E</tspan><tspan font-size="47.43" font-weight="bold" font-family='"Liberation Sans", Arial, Helvetica, sans-serif' dy="18.50">2H</tspan></text>
<text transform="translate(1432.64 899.90) scale(0.9740 1)" fill="#000" xml:space="preserve" ><tspan font-size="70.06" font-weight="bold" font-family='"Liberation Sans", Arial, Helvetica, sans-serif'>E</tspan><tspan font-size="46.66" font-weight="bold" font-family='"Liberation Sans", Arial, Helvetica, sans-serif' dy="18.50">1</tspan><tspan font-size="70.06" font-weight="bold" font-family='"Liberation Sans", Arial, Helvetica, sans-serif' dy="-18.50"> (LO)</tspan></text>
<text transform="translate(1600.94 1173.00) scale(0.9612 1)" fill="#000" xml:space="preserve" ><tspan font-size="70.79" font-weight="bold" font-family='"Liberation Sans", Arial, Helvetica, sans-serif'>2(E</tspan><tspan font-size="47.43" font-weight="bold" font-family='"Liberation Sans", Arial, Helvetica, sans-serif' dy="17.80">2H</tspan><tspan font-size="70.79" font-weight="bold" font-family='"Liberation Sans", Arial, Helvetica, sans-serif' dy="-17.80"> - E</tspan><tspan font-size="47.43" font-weight="bold" font-family='"Liberation Sans", Arial, Helvetica, sans-serif' dy="17.80">2L</tspan><tspan font-size="70.79" font-weight="bold" font-family='"Liberation Sans", Arial, Helvetica, sans-serif' dy="-17.80">)</tspan></text>
<text transform="translate(212.93 944.30) scale(0.9760 1)" fill="#404040" xml:space="preserve" stroke="#404040" stroke-width="0.7"><tspan font-size="70.06" font-weight="normal" font-family='"Liberation Sans", Arial, Helvetica, sans-serif'>~102</tspan></text>
<text transform="translate(470.53 1213.60) scale(0.9885 1)" fill="#404040" xml:space="preserve" stroke="#404040" stroke-width="0.7"><tspan font-size="69.04" font-weight="normal" font-family='"Liberation Sans", Arial, Helvetica, sans-serif'>~205</tspan></text>
<text transform="translate(803.52 975.20) scale(0.9732 1)" fill="#404040" xml:space="preserve" stroke="#404040" stroke-width="0.7"><tspan font-size="70.35" font-weight="normal" font-family='"Liberation Sans", Arial, Helvetica, sans-serif'>~332</tspan></text>
<text transform="translate(941.46 1206.00) scale(0.9606 1)" fill="#404040" xml:space="preserve" stroke="#404040" stroke-width="0.7"><tspan font-size="70.35" font-weight="normal" font-family='"Liberation Sans", Arial, Helvetica, sans-serif'>~384</tspan></text>
<text transform="translate(1093.84 625.00) scale(0.9633 1)" fill="#404040" xml:space="preserve" stroke="#404040" stroke-width="0.7"><tspan font-size="70.79" font-weight="normal" font-family='"Liberation Sans", Arial, Helvetica, sans-serif'>~439</tspan></text>
<text transform="translate(1470.63 999.70) scale(0.9746 1)" fill="#404040" xml:space="preserve" stroke="#404040" stroke-width="0.7"><tspan font-size="70.06" font-weight="normal" font-family='"Liberation Sans", Arial, Helvetica, sans-serif'>~582</tspan></text>
<text transform="translate(1696.93 1271.10) scale(0.9661 1)" fill="#404040" xml:space="preserve" stroke="#404040" stroke-width="0.7"><tspan font-size="70.79" font-weight="normal" font-family='"Liberation Sans", Arial, Helvetica, sans-serif'>~668</tspan></text>
</svg></body></html>
